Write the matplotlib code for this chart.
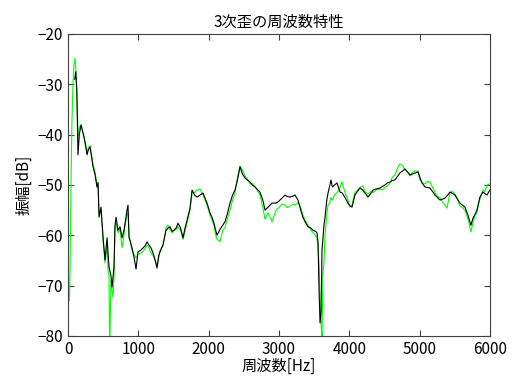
import numpy as np
import matplotlib.pyplot as plt

plt.rcParams['font.family'] = ['Noto Sans CJK JP', 'DejaVu Sans']

# 黒線（測定値）
f_black = [95, 110, 125, 142, 160, 185, 228, 250, 270, 290, 313, 335, 356, 385, 412, 427, 441, 469,
           498, 526, 555, 583, 610, 626, 654, 668, 683, 711, 740, 768, 796, 811, 839, 853, 868, 882, 910, 938,
           967, 995, 1030, 1067, 1100, 1123, 1150, 1180, 1209, 1240, 1266, 1290, 1308, 1351, 1394, 1420, 1450,
           1480, 1507, 1540, 1564, 1600, 1636, 1665, 1693, 1735, 1764, 1800, 1835, 1877, 1920, 1948, 1977, 2020,
           2048, 2076, 2100, 2119, 2162, 2200, 2233, 2270, 2304, 2340, 2375, 2410, 2446, 2480, 2517, 2550, 2588,
           2620, 2659, 2700, 2730, 2770, 2802, 2844, 2901, 2960, 3000, 3043, 3086, 3120, 3157, 3200, 3228, 3271,
           3310, 3340, 3371, 3413, 3450, 3484, 3520, 3541, 3556, 3570, 3584, 3600, 3612, 3640, 3655, 3680, 3698,
           3720, 3740, 3760, 3790, 3825, 3868, 3900, 3940, 3982, 4010, 4039, 4060, 4081, 4120, 4153, 4190, 4224,
           4266, 4300, 4337, 4380, 4437, 4470, 4508, 4540, 4579, 4610, 4650, 4690, 4721, 4760, 4792, 4830, 4863,
           4900, 4934, 4977, 5005, 5034, 5077, 5110, 5148, 5185, 5219, 5255, 5290, 5330, 5361, 5400, 5432, 5470,
           5503, 5540, 5574, 5610, 5645, 5688, 5730, 5759, 5790, 5815, 5840, 5858, 5901, 5930, 5958, 6000]
db_black = [-29, -27.5, -31, -44, -40, -38.1, -40.5, -42, -44, -43, -42.4, -44.5, -46.4, -48, -50.4, -49.5,
            -56.4, -54.4, -60.3, -64.9, -60.5, -66.3, -68, -70.3, -66.3, -58, -56.4, -59, -58.3, -60.5, -59, -57.6,
            -55, -54, -60.5, -61, -62.5, -64.3, -66.7, -63.3, -63, -62.5, -62, -61.3, -61.9, -62.5, -63.5, -65,
            -66.5, -64, -63.3, -61.9, -59, -58.6, -58.3, -59.2, -59, -58.5, -57.6, -58.5, -60.5, -58.5, -57, -54.6,
            -51, -52, -52.4, -52, -51.6, -52.6, -53.6, -55.6, -56.4, -57.6, -59, -60, -58.8, -58, -57.3, -55.5,
            -53.6, -52, -51, -49, -46.4, -47.8, -48.6, -49, -49.4, -50, -50.4, -51, -51.4, -53, -55, -54.4, -53.6,
            -53.6, -53.2, -52.6, -52, -52.3, -52.4, -52.2, -52, -53, -55, -56.4, -57.3, -58.3, -58.5, -59, -59.2,
            -59.5, -61.5, -70.9, -77.4, -75, -63, -58, -56.4, -53, -51.6, -50.2, -49, -50.4, -50, -49.6, -51.4,
            -51.6, -52.5, -53.6, -54.2, -54.4, -53.2, -52, -51.2, -50.6, -51, -51.6, -52.4, -51.8, -51, -50.8,
            -50.6, -50.3, -50, -49.6, -49.4, -49.1, -49, -48.2, -47.6, -47.2, -46.8, -47.4, -48, -47.8, -47.6,
            -47.4, -48.5, -49.6, -50.4, -50.5, -50.6, -51.3, -52, -52.5, -53, -52.8, -52.6, -52, -51.4, -51.7, -52,
            -52.8, -53.6, -54, -54.4, -56, -58, -56.6, -55.8, -55, -53.5, -52.4, -51.4, -51.7, -52, -51]

# 緑線
f_green = [0, 10, 20, 30, 40, 55, 70, 85, 100, 115, 130, 145, 165, 185, 228, 250, 270, 290, 313, 335, 356, 385,
           412, 427, 441, 469, 498, 526, 555, 570, 583, 590, 597, 610, 626, 640, 654, 668, 683, 711, 740, 768, 796,
           811, 839, 853, 868, 882, 910, 938, 967, 995, 1030, 1067, 1100, 1123, 1150, 1180, 1209, 1240, 1266, 1290,
           1308, 1351, 1394, 1420, 1450, 1480, 1507, 1540, 1564, 1600, 1636, 1665, 1693, 1735, 1764, 1800, 1835,
           1877, 1920, 1948, 1977, 2020, 2048, 2076, 2100, 2119, 2162, 2200, 2233, 2270, 2304, 2340, 2375, 2410,
           2446, 2480, 2517, 2550, 2588, 2620, 2659, 2700, 2730, 2770, 2802, 2844, 2901, 2960, 3000, 3043, 3086,
           3120, 3157, 3200, 3228, 3271, 3310, 3340, 3371, 3413, 3450, 3484, 3520, 3541, 3556, 3570, 3584, 3600,
           3612, 3625, 3640, 3655, 3680, 3698, 3720, 3740, 3760, 3790, 3825, 3868, 3897, 3940, 3982, 4010, 4039,
           4060, 4081, 4120, 4153, 4190, 4224, 4266, 4300, 4337, 4380, 4437, 4470, 4508, 4540, 4579, 4610, 4650,
           4690, 4721, 4760, 4792, 4830, 4863, 4900, 4934, 4977, 5005, 5034, 5077, 5110, 5148, 5185, 5219, 5255,
           5290, 5330, 5361, 5390, 5432, 5470, 5503, 5540, 5574, 5610, 5645, 5688, 5730, 5759, 5790, 5815, 5840,
           5858, 5901, 5930, 5958, 6000]
db_green = [-75.5, -71, -73, -66, -52, -38, -30, -26, -24.8, -28, -35, -40, -38.5, -38, -40.5, -42.5, -43.5,
            -42.5, -42.2, -44, -46, -47.5, -50, -50.5, -55.5, -55, -61, -65.5, -62, -67, -68, -80, -80, -69, -71,
            -72.3, -68, -58.5, -57.5, -59.5, -58.8, -62.5, -60, -58, -56, -55.5, -60, -61, -63, -63.8, -64.5,
            -63.8, -63.6, -63.2, -62.5, -62, -62.5, -63.5, -64, -65, -66, -64.5, -63, -62, -58.5, -58, -58.8,
            -59.5, -59, -58.8, -58.3, -59, -60.8, -59, -57.5, -55, -51.5, -51.5, -51, -50.8, -52, -53, -54, -56,
            -57, -58, -60, -60.8, -61.3, -59, -58.5, -56.5, -55, -53, -51.5, -48.5, -46.2, -47, -48.2, -48.8,
            -49.8, -49.7, -50.3, -51.3, -52, -54.5, -56.8, -55.5, -57.3, -55, -54.5, -53.8, -54, -54.5, -54.2,
            -53.8, -54, -53.5, -54.5, -56, -57, -58, -58.8, -59.5, -60, -60.5, -62.5, -66, -72, -78, -80, -68,
            -65.5, -60, -56, -54, -53.6, -52.5, -53, -52, -51.5, -50.5, -49.4, -51.5, -53, -54.3, -54, -52.6,
            -51.5, -51, -50.5, -50.2, -51.3, -51.8, -51.3, -51.5, -51, -50.8, -51, -50.5, -50.2, -49.6, -48.5,
            -48, -46.5, -45.8, -46.2, -47, -47.5, -48.2, -47.5, -47.2, -47.3, -49, -49.5, -49.8, -49.3, -49.4,
            -50.5, -51.5, -52.3, -52.5, -53.5, -54, -54.6, -51.5, -51.3, -51.8, -53, -54.2, -54.5, -55, -56.8,
            -59.3, -57.5, -56, -55.5, -53.8, -52.8, -51, -51.3, -50, -49.8]

fig = plt.figure(figsize=(5.13, 3.76), dpi=100)
ax = fig.add_axes([0.1326, 0.1064, 0.8224, 0.8032])

ax.plot(f_green, db_green, color='#00ff00', lw=0.8)
ax.plot(f_black, db_black, color='black', lw=0.8)

ax.set_xlim(0, 6000)
ax.set_ylim(-80, -20)
ax.set_xticks(np.arange(0, 6001, 1000))
ax.set_yticks(np.arange(-80, -19, 10))
ax.tick_params(direction='in', top=True, right=True, labelsize=11, length=4, color='#404040')
for s in ax.spines.values():
    s.set_color('#404040')

ax.set_title('3次歪の周波数特性', fontsize=11, pad=5)
ax.set_xlabel('周波数[Hz]', fontsize=11, labelpad=0)
ax.set_ylabel('振幅[dB]', fontsize=11, labelpad=4)

fig.savefig('out.png', dpi=100)
